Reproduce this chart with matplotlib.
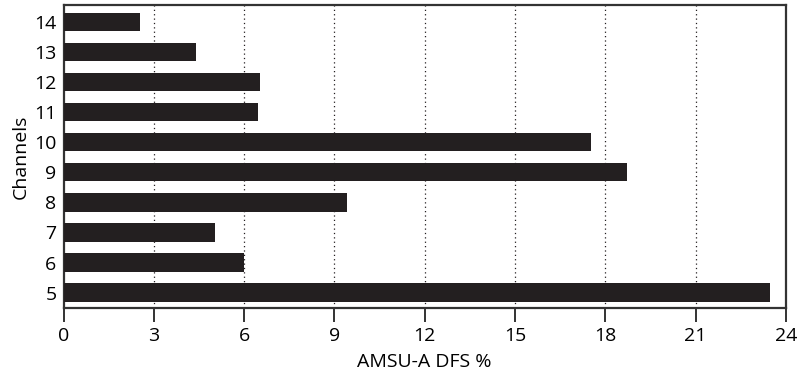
import matplotlib.pyplot as plt

channels = [5, 6, 7, 8, 9, 10, 11, 12, 13, 14]
dfs_pct = [23.48, 6.01, 5.04, 9.43, 18.73, 17.53, 6.46, 6.52, 4.40, 2.54]
xticks = [0, 3, 6, 9, 12, 15, 18, 21, 24]

plt.rcParams['font.family'] = ['Open Sans', 'DejaVu Sans']

fig = plt.figure(figsize=(7.98, 3.76), dpi=100)
ax = fig.add_axes([63.5 / 798, 1 - 307.7 / 376, 722.3 / 798, 302.5 / 376])

ax.barh(channels, dfs_pct, height=0.61, color='#231f20', zorder=3)

ax.set_xlim(0, 24)
ax.set_ylim(4.5, 14.55)
ax.set_xticks(xticks)
ax.set_yticks(channels)
for x in xticks[1:-1]:
    ax.axvline(x, color='#231f20', linestyle=(0, (1, 2.5)), linewidth=0.9, zorder=1)

ax.tick_params(axis='x', direction='out', length=10, width=1.4, color='#333333',
               labelsize=14, pad=4)
ax.tick_params(axis='y', length=0, labelsize=14, pad=5)
for s in ax.spines.values():
    s.set_linewidth(1.6)
    s.set_color('#333333')

ax.set_xlabel('AMSU-A DFS %', fontsize=14, labelpad=6)
ax.set_ylabel('Channels', fontsize=14, labelpad=3)

fig.savefig('out.png', dpi=100)
